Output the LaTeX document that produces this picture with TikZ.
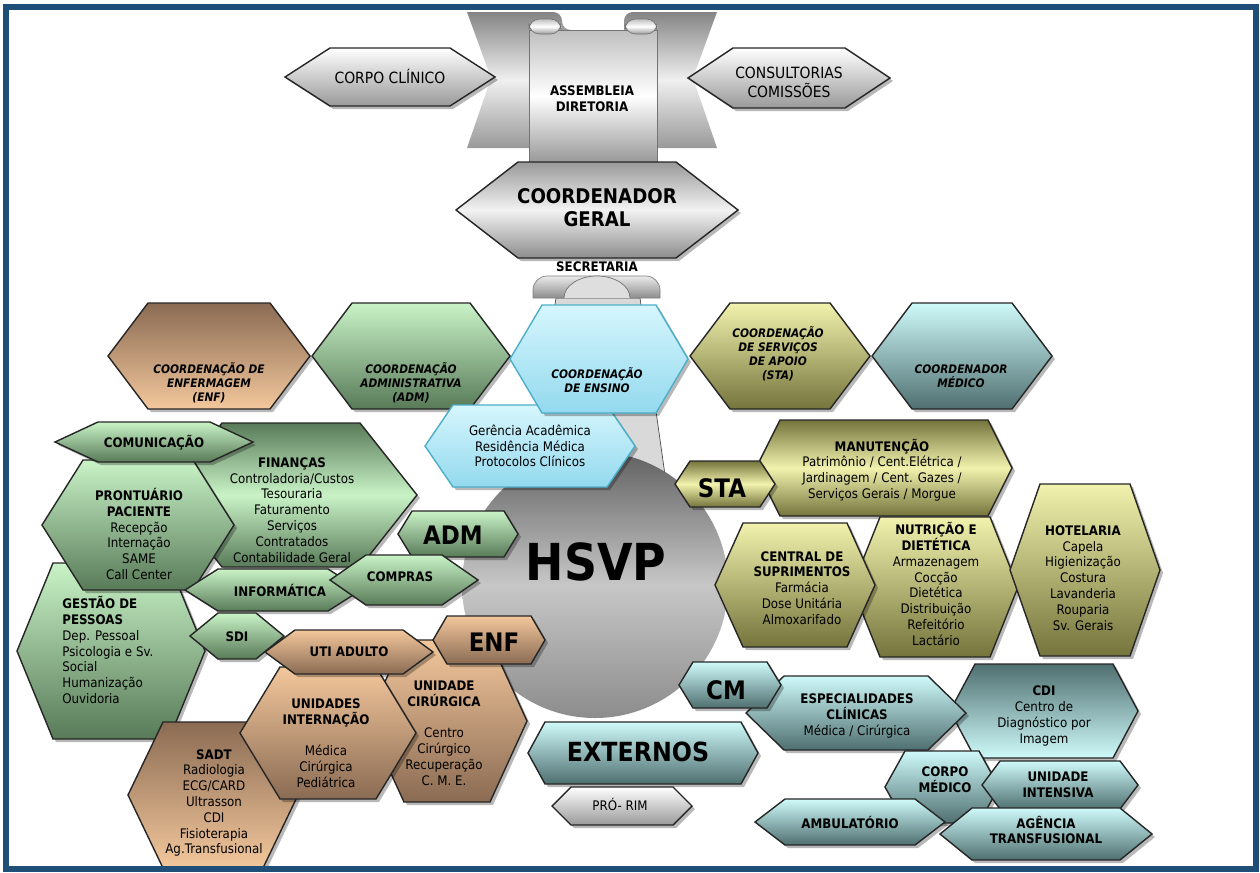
\documentclass[tikz,border=0pt]{standalone}
\usepackage{fontspec}
\setmainfont{DejaVu Sans}[FakeStretch=0.9]
\definecolor{frameblue}{HTML}{1F4E79}
\definecolor{grnL}{HTML}{C9F3C7}
\definecolor{grnD}{HTML}{587A58}
\definecolor{brnL}{HTML}{F3C79C}
\definecolor{brnD}{HTML}{8A6B53}
\definecolor{cyaL}{HTML}{D6F6FD}
\definecolor{cyaD}{HTML}{93D9EE}
\definecolor{cyaE}{HTML}{4DAEC9}
\definecolor{olvL}{HTML}{F2F2AE}
\definecolor{olvD}{HTML}{74743C}
\definecolor{tlL}{HTML}{CFFAFA}
\definecolor{tlD}{HTML}{4F6F70}

\begin{document}
\begin{tikzpicture}[x=0.02cm, y=-0.02cm,
  pics/hexa/.style args={#1/#2/#3}{code={
    \path[fill=black, opacity=.28] (-#1+3,3) -- (-#1+#3+3,-#2+3) -- (#1-#3+3,-#2+3) -- (#1+3,3) -- (#1-#3+3,#2+3) -- (-#1+#3+3,#2+3) -- cycle;
    \path[pic actions] (-#1,0) -- (-#1+#3,-#2) -- (#1-#3,-#2) -- (#1,0) -- (#1-#3,#2) -- (-#1+#3,#2) -- cycle;}},
  shd/.style 2 args={draw=black!85, line width=.8pt, top color=#1, bottom color=#2},
  shdm/.style n args={3}{draw=black!85, line width=.8pt, top color=#1, bottom color=#3, middle color=#2},
  scroll/.style={draw=black!55, line width=.4pt, top color=black!25, bottom color=black!40, middle color=white},
  lbl/.style={align=center, inner sep=0pt, font=\fontsize{7.5}{9}\selectfont},
  lblb/.style={lbl, font=\bfseries\fontsize{7.5}{9}\selectfont},
  crd/.style={align=center, inner sep=0pt, font=\bfseries\itshape\fontsize{6.7}{8}\selectfont},
  big/.style={inner sep=0pt, font=\bfseries\fontsize{14.5}{16}\selectfont}]
\useasboundingbox (0,0) rectangle (1260,872);

% direcao
\path[top color=black!48, bottom color=black!40, middle color=black!6]
  (467,12) [rounded corners=5pt] -- (562,12) -- (562,30) [sharp corners] -- (624,30)
  [rounded corners=5pt] -- (624,12) [sharp corners] -- (717,12) -- (693,78) -- (717,148)
  -- (467,148) -- (491,78) -- cycle;
\draw[scroll] (529,30) rectangle (657,162);
\draw[scroll, rounded corners=6pt] (529,19) rectangle (561,34);
\draw[scroll, rounded corners=6pt] (625,19) rectangle (657,34);
\node[lblb] (assemb) at (592,99) {ASSEMBLEIA\\DIRETORIA};

\pic[shd={white}{black!40}] (corpo) at (390,77) {hexa=105/29/45};
\node[lbl, font=\fontsize{8.8}{10.8}\selectfont] (corpot) at (390,76) {CORPO CLÍNICO};
\pic[shd={white}{black!40}] (consul) at (789,78) {hexa=101/30/45};
\node[lbl, font=\fontsize{8.8}{10.8}\selectfont] (consult) at (789,82) {CONSULTORIAS\\COMISSÕES};

\pic[shdm={black!40}{black!5}{black!45}] (geral) at (597,210) {hexa=141/48/62};
\node[inner sep=0pt, align=center, font=\bfseries\fontsize{11.5}{13}\selectfont] (geralt) at (597,208) {COORDENADOR\\GERAL};

% secretaria
\node[lblb] (secr) at (597,267) {SECRETARIA};
\draw[fill=black!15, draw=black!70, line width=.4pt] (556,298) -- (640,298) -- (665,475) -- (529,475) -- cycle;
\draw[top color=black!8, bottom color=black!45, draw=black!50, line width=.4pt]
  (533,298) [rounded corners=8pt] -- (533,276) -- (660,276) [sharp corners] -- (660,298) -- cycle;
\draw[fill=black!13, draw=black!55, line width=.4pt] (564,298) arc[start angle=180, end angle=360, x radius=33, y radius=22];

% hospital
\path[top color=black!62, bottom color=black!45, middle color=black!22] (595,585) circle[radius=133];
\node[inner sep=0pt, font=\bfseries\fontsize{29}{30}\selectfont] (hsvp) at (596,562) {HSVP};

% coordenacoes
\pic[shd={brnD}{brnL}] (cenf) at (209,356) {hexa=101/53/40};
\node[crd] (cenft) at (209,383) {COORDENAÇÃO DE\\ENFERMAGEM\\(ENF)};
\pic[shd={grnL}{grnD}] (cadm) at (411,356) {hexa=99/53/40};
\node[crd] (cadmt) at (411,383) {COORDENAÇÃO\\ADMINISTRATIVA\\(ADM)};
\pic[shd={olvL}{olvD}] (csta) at (780,356) {hexa=90/53/40};
\node[crd] (cstat) at (778,354) {COORDENAÇÃO\\DE SERVIÇOS\\DE APOIO\\(STA)};
\pic[shd={tlL}{tlD}] (cmed) at (962,356) {hexa=90/53/40};
\node[crd] (cmedt) at (961,376) {COORDENADOR\\MÉDICO};
\pic[shd={cyaL}{cyaD}, draw=cyaE] (ger) at (530,446) {hexa=105/41/28};
\node[lbl] (gert) at (530,446) {Gerência Acadêmica\\Residência Médica\\Protocolos Clínicos};
\pic[shd={cyaL}{cyaD}, draw=cyaE] (cens) at (599,359) {hexa=89/54/32};
\node[crd] (censt) at (597,380) {COORDENAÇÃO\\DE ENSINO};

% ADM
\pic[shd={grnL}{grnD}] (gest) at (111,651) {hexa=94/88/36};
\node[lbl, align=left, anchor=west] (gestt) at (62,650) {\textbf{GESTÃO DE}\\\textbf{PESSOAS}\\Dep. Pessoal\\Psicologia e Sv.\\Social\\Humanização\\Ouvidoria};
\pic[shdm={grnD}{grnL}{grnD}] (fin) at (291,495) {hexa=126/72/57};
\node[lbl] (fint) at (292,510) {\textbf{FINANÇAS}\\Controladoria/Custos\\Tesouraria\\Faturamento\\Serviços\\Contratados\\Contabilidade Geral};
\pic[shd={grnL}{grnD}] (pront) at (138,525) {hexa=96/65/41};
\node[lbl] (prontt) at (139,534) {\textbf{PRONTUÁRIO}\\\textbf{PACIENTE}\\Recepção\\Internação\\SAME\\Call Center};
\pic[shd={grnL}{grnD}] (comun) at (154,442) {hexa=99/20/43};
\node[lblb] (comunt) at (154,443) {COMUNICAÇÃO};
\pic[shd={grnL}{grnD}] (info) at (273,590) {hexa=88/21/33};
\node[lblb] (infot) at (280,590) {INFORMÁTICA};
\pic[shd={grnL}{grnD}] (adm) at (458,534) {hexa=60/23/14};
\node[big] (admt) at (453,535) {ADM};
\pic[shd={grnL}{grnD}] (compras) at (404,580) {hexa=74/25/36};
\node[lblb] (comprast) at (400,577) {COMPRAS};
\pic[shd={grnL}{grnD}] (sdi) at (237,636) {hexa=47/23/28};
\node[lblb] (sdit) at (237,637) {SDI};

% ENF
\pic[shd={brnD}{brnL}] (sadt) at (213,795) {hexa=85/73/35};
\node[lbl] (sadtt) at (214,803) {\textbf{SADT}\\Radiologia\\ECG/CARD\\Ultrasson\\CDI\\Fisioterapia\\Ag.Transfusional};
\pic[shd={brnL}{brnD}] (ucir) at (447,721) {hexa=80/81/37};
\node[lbl] (ucirt) at (444,733) {\textbf{UNIDADE}\\\textbf{CIRÚRGICA}\\[9pt]Centro\\Cirúrgico\\Recuperação\\C. M. E.};
\pic[shd={brnL}{brnD}] (uint) at (328,733) {hexa=88/66/40};
\node[lbl] (uintt) at (326,743) {\textbf{UNIDADES}\\\textbf{INTERNAÇÃO}\\[9pt]Médica\\Cirúrgica\\Pediátrica};
\pic[shd={brnL}{brnD}] (uti) at (349,652) {hexa=84/22/30};
\node[lblb] (utit) at (349,652) {UTI ADULTO};
\pic[shd={brnL}{brnD}] (enf) at (489,640) {hexa=56/24/14};
\node[big] (enft) at (494,642) {ENF};

% STA
\pic[shdm={olvD}{olvL}{olvD}] (manut) at (884,468) {hexa=128/48/24};
\node[lbl] (manutt) at (882,470) {\textbf{MANUTENÇÃO}\\Patrimônio / Cent.Elétrica /\\Jardinagem / Cent. Gazes /\\Serviços Gerais / Morgue};
\pic[shdm={olvD}{olvL}{olvD}] (sta) at (725,484) {hexa=50/23/15};
\node[big] (stat) at (722,488) {STA};
\pic[shd={olvL}{olvD}] (nutr) at (935,587) {hexa=83/70/28};
\node[lbl] (nutrt) at (936,584) {\textbf{NUTRIÇÃO E}\\\textbf{DIETÉTICA}\\Armazenagem\\Cocção\\Dietética\\Distribuição\\Refeitório\\Lactário};
\pic[shd={olvL}{olvD}] (centr) at (795,585) {hexa=80/62/28};
\node[lbl] (centrt) at (802,588) {\textbf{CENTRAL DE}\\\textbf{SUPRIMENTOS}\\Farmácia\\Dose Unitária\\Almoxarifado};
\pic[shd={olvL}{olvD}] (hotel) at (1085,570) {hexa=75/86/30};
\node[lbl] (hotelt) at (1083,578) {\textbf{HOTELARIA}\\Capela\\Higienização\\Costura\\Lavanderia\\Rouparia\\Sv. Gerais};

% CM
\pic[shd={tlD}{tlL}] (cdi) at (1044,711) {hexa=94/47/25};
\node[lbl] (cdit) at (1044,716) {\textbf{CDI}\\Centro de\\Diagnóstico por\\Imagem};
\pic[shd={tlL}{tlD}] (espec) at (856,713) {hexa=110/37/38};
\node[lbl] (espect) at (857,716) {\textbf{ESPECIALIDADES}\\\textbf{CLÍNICAS}\\Médica / Cirúrgica};
\pic[shd={tlL}{tlD}] (cm) at (730,685) {hexa=51/23/14};
\node[big] (cmt) at (726,690) {CM};
\pic[shd={tlL}{tlD}] (ext) at (643,753) {hexa=115/31/17};
\node[big, font=\bfseries\fontsize{15}{16}\selectfont] (extt) at (638,752) {EXTERNOS};
\pic[shd={white}{black!40}] (prorim) at (622,806) {hexa=70/19/19};
\node[lbl] (prorimt) at (620,804) {PRÓ- RIM};
\pic[shd={tlL}{tlD}] (cmedico) at (942,787) {hexa=57/36/20};
\node[lblb] (cmedicot) at (945,780) {CORPO\\MÉDICO};
\pic[shd={tlL}{tlD}] (uinten) at (1060,785) {hexa=78/24/18};
\node[lblb] (uintent) at (1058,785) {UNIDADE\\INTENSIVA};
\pic[shd={tlL}{tlD}] (ambul) at (850,822) {hexa=95/23/30};
\node[lblb] (ambult) at (850,822) {AMBULATÓRIO};
\pic[shd={tlL}{tlD}] (agenc) at (1046,834) {hexa=106/26/32};
\node[lblb] (agenct) at (1046,830) {AGÊNCIA\\TRANSFUSIONAL};

\draw[frameblue, line width=3.4pt] (6,7) rectangle (1256,869);
\end{tikzpicture}
\end{document}
